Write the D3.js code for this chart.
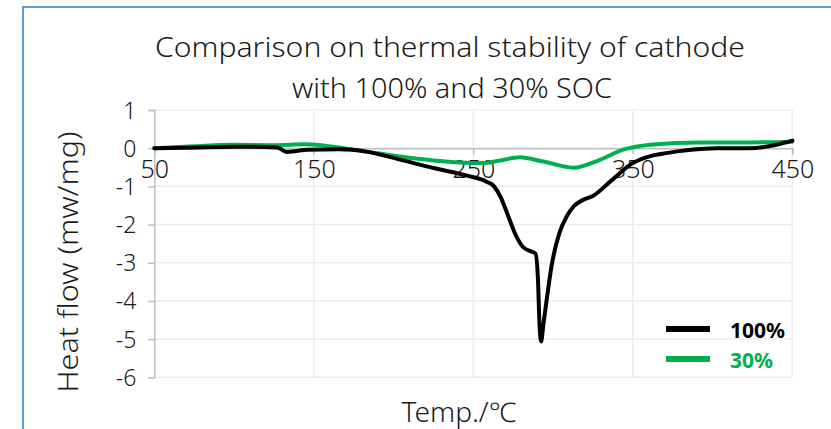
<!DOCTYPE html>
<html>
<head>
<meta charset="utf-8">
<script src="https://cdn.jsdelivr.net/npm/d3@7"></script>
<style>
  body { margin: 0; background: #fff; }
  text { font-family: "Noto Sans", sans-serif; fill: #1a1a1a; font-weight: 300; }
</style>
</head>
<body>
<svg id="chart" width="831" height="429"></svg>
<script>
// temperature (°C) and heat flow (mw/mg)
var temp100 = [50, 70, 99, 127, 133, 138, 146, 166, 183, 204, 225, 246, 258, 263, 267, 272, 276, 281, 286, 289, 290.5, 291.5, 292.5, 294, 296, 299, 304, 308.5, 313, 319, 325, 336, 350, 360, 371, 385, 403, 423, 440, 450];
var flow100 = [0, 0.01, 0.04, 0.02, -0.1, -0.08, -0.04, -0.03, -0.09, -0.3, -0.52, -0.72, -0.87, -1.0, -1.27, -1.79, -2.22, -2.58, -2.7, -2.76, -3.4, -4.6, -5.06, -4.6, -3.97, -3.1, -2.22, -1.79, -1.52, -1.35, -1.25, -0.87, -0.39, -0.22, -0.13, -0.05, 0, 0, 0.09, 0.2];

var temp30 = [50, 75, 99, 125, 145, 162, 183, 204, 225, 246, 256, 266, 279, 294, 312.7, 329, 344, 361, 392, 423, 450];
var flow30 = [0, 0.05, 0.09, 0.08, 0.1, 0.04, -0.09, -0.22, -0.32, -0.38, -0.39, -0.33, -0.24, -0.35, -0.51, -0.31, -0.04, 0.09, 0.15, 0.15, 0.17];

var xTicks = [50, 150, 250, 350, 450];
var yTicks = [1, 0, -1, -2, -3, -4, -5, -6];

var series = [
  {name: "100%", color: "#000000", x: temp100, y: flow100},
  {name: "30%", color: "#00b050", x: temp30, y: flow30}
];

var svg = d3.select("#chart");

// blue frame round the chart
svg.append("path")
  .attr("d", "M23,429 L23,7 L831,7")
  .attr("fill", "none")
  .attr("stroke", "#5b9bd5")
  .attr("stroke-width", 2);

var x = d3.scaleLinear().domain([50, 450]).range([154.3, 792.3]);
var y = d3.scaleLinear().domain([1, -6]).range([110, 377.3]);

// grid
svg.append("g").selectAll("line")
  .data(yTicks).enter().append("line")
  .attr("x1", x(50)).attr("x2", x(450))
  .attr("y1", function(d) { return y(d); })
  .attr("y2", function(d) { return y(d); })
  .attr("stroke", "#ececec").attr("stroke-width", 1.5);

svg.append("g").selectAll("line")
  .data(xTicks.slice(1)).enter().append("line")
  .attr("x1", function(d) { return x(d); })
  .attr("x2", function(d) { return x(d); })
  .attr("y1", y(1)).attr("y2", y(-6))
  .attr("stroke", "#ececec").attr("stroke-width", 1.5);

// y axis
var yAxis = svg.append("g")
  .attr("transform", "translate(" + x(50) + ",0)")
  .call(d3.axisLeft(y).tickValues(yTicks).tickSize(6).tickPadding(12)
    .tickFormat(function(d) { return d < 0 ? "-" + Math.abs(d) : d; }));
yAxis.select(".domain").attr("stroke", "#bfbfbf").attr("stroke-width", 1.5);
yAxis.selectAll(".tick line").attr("stroke", "#bfbfbf").attr("stroke-width", 1.5);
yAxis.selectAll(".tick text").style("font-size", "23px").attr("dy", "0.35em");

// x axis sits on y = 0
var xAxis = svg.append("g")
  .attr("transform", "translate(0," + y(0) + ")")
  .call(d3.axisBottom(x).tickValues(xTicks).tickSize(6).tickPadding(6).tickFormat(d3.format("d")));
xAxis.select(".domain").attr("stroke", "#bfbfbf").attr("stroke-width", 1.5);
xAxis.selectAll(".tick line").attr("stroke", "#bfbfbf").attr("stroke-width", 1.5);
xAxis.selectAll(".tick text").style("font-size", "25px");

// lines
var line = d3.line()
  .x(function(d) { return x(d[0]); })
  .y(function(d) { return y(d[1]); })
  .curve(d3.curveMonotoneX);

// green first so black is on top
series.slice().reverse().forEach(function(s) {
  svg.append("path")
    .datum(d3.zip(s.x, s.y))
    .attr("fill", "none")
    .attr("stroke", s.color)
    .attr("stroke-width", 4)
    .attr("stroke-linejoin", "round")
    .attr("stroke-linecap", "round")
    .attr("d", line);
});

// title
svg.append("text")
  .attr("x", 450).attr("y", 57)
  .attr("text-anchor", "middle")
  .attr("textLength", 590).attr("lengthAdjust", "spacingAndGlyphs")
  .style("font-size", "28px")
  .text("Comparison on thermal stability of cathode");
svg.append("text")
  .attr("x", 452).attr("y", 98)
  .attr("text-anchor", "middle")
  .attr("textLength", 320).attr("lengthAdjust", "spacingAndGlyphs")
  .style("font-size", "28px")
  .text("with 100% and 30% SOC");

// axis titles
svg.append("text")
  .attr("transform", "translate(78,262) rotate(-90)")
  .attr("text-anchor", "middle")
  .attr("textLength", 261).attr("lengthAdjust", "spacingAndGlyphs")
  .style("font-size", "27px")
  .text("Heat flow (mw/mg)");
svg.append("text")
  .attr("x", 459).attr("y", 422)
  .attr("text-anchor", "middle")
  .attr("textLength", 115).attr("lengthAdjust", "spacingAndGlyphs")
  .style("font-size", "27px")
  .text("Temp./℃");

// legend
var legend = svg.append("g").selectAll("g")
  .data(series).enter().append("g")
  .attr("transform", function(d, i) { return "translate(666," + (329 + i * 30) + ")"; });
legend.append("line")
  .attr("x1", 0).attr("x2", 44)
  .attr("stroke", function(d) { return d.color; })
  .attr("stroke-width", 6);
legend.append("text")
  .attr("x", 64).attr("y", 9)
  .style("font-size", "21px")
  .style("font-weight", "bold")
  .style("fill", function(d) { return d.color === "#000000" ? "#000" : d.color; })
  .text(function(d) { return d.name; });
</script>
</body>
</html>
